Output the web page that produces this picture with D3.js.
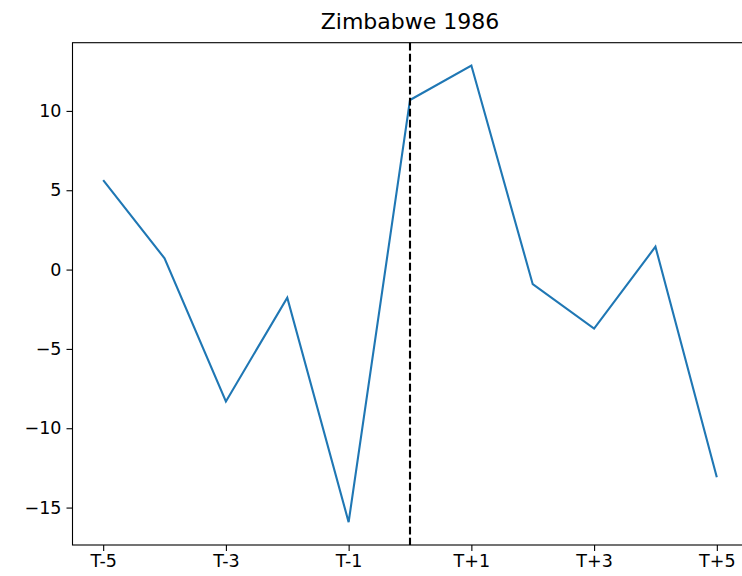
<!DOCTYPE html>
<html>
<head>
<meta charset="utf-8">
<script src="https://cdn.jsdelivr.net/npm/d3@7"></script>
<style>
	body { margin: 0; background: white; }
	svg { display: block; font-family: "DejaVu Sans", sans-serif; }
</style>
</head>
<body>
<div id="chartDiv"></div>
<script>
// Data
let periods = ["T-5", "T-4", "T-3", "T-2", "T-1", "T", "T+1", "T+2", "T+3", "T+4", "T+5"]
let values = [5.64, 0.71, -8.31, -1.77, -15.92, 10.69, 12.86, -0.92, -3.72, 1.44, -13.09]
let xTickLabels = ["T-5", "T-3", "T-1", "T+1", "T+3", "T+5"]
let yTicks = [-15, -10, -5, 0, 5, 10]
let eventPeriod = "T"
let chartTitle = "Zimbabwe 1986"

let chartWidth = 742
let chartHeight = 576

// Axes box (right edge runs past the picture, as in the reference)
let axLeft = 72.5
let axRight = 747.5
let axTop = 42.7
let axBottom = 545

let svg = d3.select("#chartDiv")
	.append("svg")
	.attr("width", chartWidth)
	.attr("height", chartHeight)

let x = d3.scaleLinear()
	.domain([-0.5, periods.length - 0.5])
	.range([axLeft, axRight])

// matplotlib style 5% margins
let yMin = d3.min(values)
let yMax = d3.max(values)
let pad = (yMax - yMin) * 0.05
let y = d3.scaleLinear()
	.domain([yMin - pad, yMax + pad])
	.range([axBottom, axTop])

// Data line
let line = d3.line()
	.x((d, i) => x(i))
	.y(d => y(d))

svg.append("path")
	.datum(values)
	.attr("d", line)
	.attr("fill", "none")
	.attr("stroke", "#1f77b4")
	.attr("stroke-width", 2.1)
	.attr("stroke-linejoin", "miter")

// Event line
let eventIndex = periods.indexOf(eventPeriod)
svg.append("line")
	.attr("x1", x(eventIndex))
	.attr("x2", x(eventIndex))
	.attr("y1", axTop)
	.attr("y2", axBottom)
	.attr("stroke", "black")
	.attr("stroke-width", 2.1)
	.attr("stroke-dasharray", "7.7,3.3")

// Frame
svg.append("rect")
	.attr("x", axLeft)
	.attr("y", axTop)
	.attr("width", axRight - axLeft)
	.attr("height", axBottom - axTop)
	.attr("fill", "none")
	.attr("stroke", "black")
	.attr("stroke-width", 1.1)

// Axes
let xAxis = d3.axisBottom(x)
	.tickValues(xTickLabels.map(l => periods.indexOf(l)))
	.tickFormat(i => periods[i])
	.tickSize(6)
	.tickPadding(4)

let yAxis = d3.axisLeft(y)
	.tickValues(yTicks)
	.tickFormat(d3.format("d"))
	.tickSize(6)
	.tickPadding(5)

let gx = svg.append("g")
	.attr("transform", "translate(0," + axBottom + ")")
	.call(xAxis)

let gy = svg.append("g")
	.attr("transform", "translate(" + axLeft + ",0)")
	.call(yAxis)

for (let g of [gx, gy]) {
	g.select(".domain").remove()
	g.selectAll(".tick line").attr("stroke", "black").attr("stroke-width", 1.1)
	g.selectAll(".tick text")
		.attr("fill", "black")
		.attr("font-size", 17.5)
		.attr("font-family", "DejaVu Sans")
}

// Title
svg.append("text")
	.text(chartTitle)
	.attr("x", (axLeft + axRight) / 2)
	.attr("y", 29)
	.attr("text-anchor", "middle")
	.attr("font-size", 22)
	.attr("fill", "black")
</script>
</body>
</html>
